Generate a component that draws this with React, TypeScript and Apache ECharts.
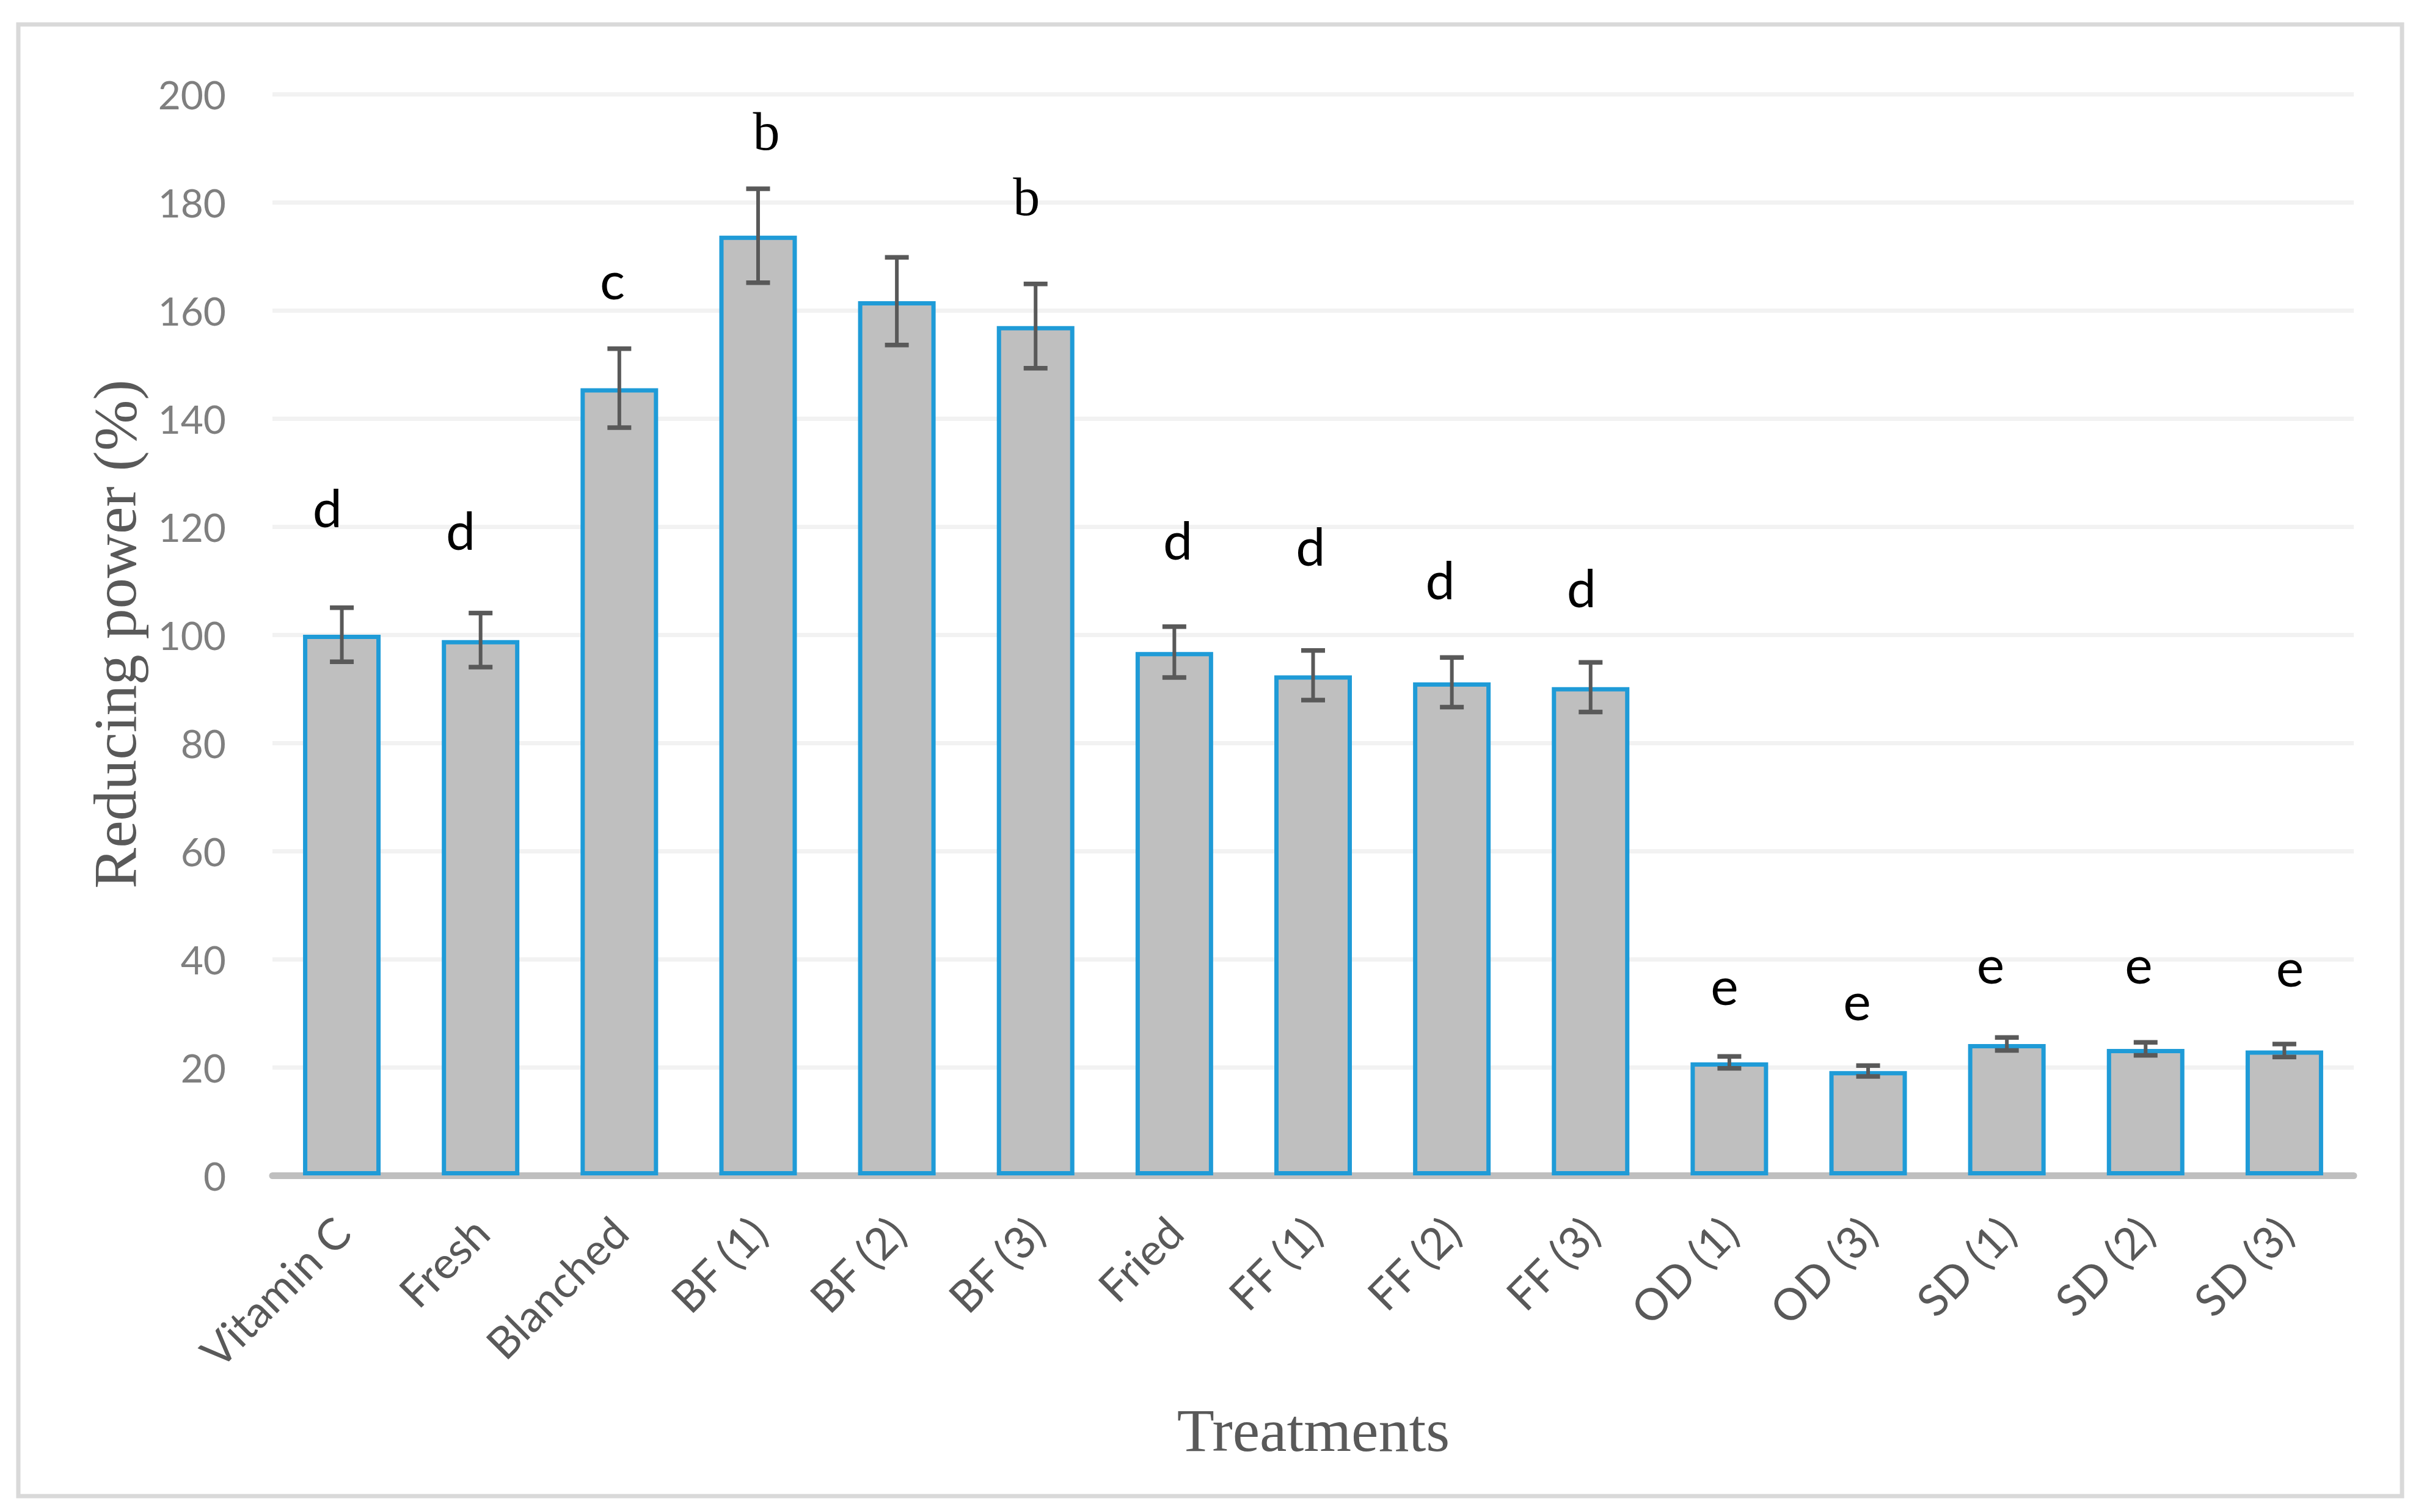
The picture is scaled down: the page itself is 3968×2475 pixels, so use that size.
import React, { useEffect, useRef } from "react";
import * as echarts from "echarts";

const categories = ["Vitamin C", "Fresh", "Blanched", "BF (1)", "BF (2)", "BF (3)", "Fried", "FF (1)", "FF (2)", "FF (3)", "OD (1)", "OD (3)", "SD (1)", "SD (2)", "SD (3)"];
const values = [100, 99, 145.6, 173.8, 161.7, 157.1, 96.8, 92.5, 91.2, 90.3, 20.9, 19.3, 24.3, 23.4, 23.1];
const errors = [5, 5, 7.3, 8.7, 8.1, 7.8, 4.7, 4.6, 4.6, 4.6, 1.1, 1.0, 1.2, 1.2, 1.2];
const letters = ["d", "d", "c", "b", "", "b", "d", "d", "d", "d", "e", "e", "e", "e", "e"];
const letterPos = [122.7, 118.5, 164.8, 192, 0, 180, 116.7, 115.5, 109.3, 107.9, 34.3, 31.5, 38.3, 38.3, 37.7];
const letterShift = [-0.104, -0.144, -0.05, 0.06, 0, -0.066, 0.025, -0.018, -0.084, -0.066, -0.035, -0.08, -0.118, -0.05, 0.04];
const yMin = 0;
const yMax = 200;
const yStep = 20;
const yTitle = "Reducing power (%)";
const xTitle = "Treatments";

export default function App() {
  const ref = useRef<HTMLDivElement>(null);
  useEffect(() => {
    if (!ref.current) return;
    const chart = echarts.init(ref.current, null, { renderer: "svg" });
    const option: any = {
      animation: false,
      backgroundColor: "#ffffff",
      grid: { left: 446, right: 115, top: 154, bottom: 551, containLabel: false },
      xAxis: {
        type: "category",
        data: categories,
        axisLine: { show: true, lineStyle: { color: "#bfbfbf", width: 11 } },
        axisTick: { show: false },
        axisLabel: {
          interval: 0,
          rotate: 45,
          margin: 80,
          fontFamily: "Lato",
          fontSize: 72,
          color: "#595959",
        },
        splitLine: { show: false },
      },
      yAxis: {
        type: "value",
        min: yMin,
        max: yMax,
        interval: yStep,
        axisLine: { show: false },
        axisTick: { show: false },
        axisLabel: { margin: 76, fontFamily: "Lato", fontSize: 64, color: "#7f7f7f" },
        splitLine: { show: true, lineStyle: { color: "#f2f2f2", width: 7 } },
      },
      series: [
        {
          type: "bar",
          data: values,
          barWidth: 127,
          itemStyle: { color: "#bfbfbf", borderColor: "#1f9bd7", borderWidth: 7 },
          z: 2,
        },
        {
          type: "custom",
          z: 5,
          data: values.map((v, i) => [i, v, errors[i]]),
          encode: { x: 0, y: 1 },
          renderItem: (params: any, api: any) => {
            const i = api.value(0);
            const v = api.value(1);
            const e = api.value(2);
            const top = api.coord([i, v + e]);
            const bot = api.coord([i, v - e]);
            const hw = 19.5;
            const st = { stroke: "#595959", lineWidth: 6 };
            const cap = { stroke: "#595959", lineWidth: 7.5 };
            return {
              type: "group",
              children: [
                { type: "line", shape: { x1: top[0], y1: top[1], x2: bot[0], y2: bot[1] }, style: st },
                { type: "line", shape: { x1: top[0] - hw, y1: top[1], x2: top[0] + hw, y2: top[1] }, style: cap },
                { type: "line", shape: { x1: bot[0] - hw, y1: bot[1], x2: bot[0] + hw, y2: bot[1] }, style: cap },
              ],
            };
          },
        },
        {
          type: "custom",
          z: 6,
          clip: false,
          data: letterPos.map((p, i) => [i, p]),
          encode: { x: 0, y: 1 },
          renderItem: (params: any, api: any) => {
            const idx = params.dataIndex;
            const t = letters[idx];
            if (!t) return null;
            const pt = api.coord([api.value(0), api.value(1)]);
            const band = api.size([1, 0])[0];
            const serif = t === "b";
            return {
              type: "text",
              x: pt[0] + letterShift[idx] * band,
              y: pt[1] - 9,
              style: {
                text: t,
                fill: "#000000",
                fontSize: serif ? 88 : 86,
                fontFamily: serif ? "Liberation Serif" : "Lato",
                align: "center",
                verticalAlign: "middle",
              },
            };
          },
        },
      ],
      graphic: [
        {
          type: "rect",
          shape: { x: 30, y: 40, width: 3902, height: 2409 },
          style: { fill: "none", stroke: "#d9d9d9", lineWidth: 7 },
          silent: true,
        },
        {
          type: "text",
          x: 188,
          y: 1038,
          rotation: Math.PI / 2,
          style: {
            text: yTitle,
            fill: "#595959",
            fontSize: 100,
            fontFamily: "Liberation Serif",
            align: "center",
            verticalAlign: "middle",
          },
        },
        {
          type: "text",
          x: 2150,
          y: 2341,
          style: {
            text: xTitle,
            fill: "#595959",
            fontSize: 100,
            fontFamily: "Liberation Serif",
            align: "center",
            verticalAlign: "middle",
          },
        },
      ],
    };
    chart.setOption(option);
    return () => chart.dispose();
  }, []);
  return (
    <div
      ref={ref}
      style={{ position: "absolute", left: 0, top: 0, width: 3968, height: 2475, background: "#fff" }}
    />
  );
}
